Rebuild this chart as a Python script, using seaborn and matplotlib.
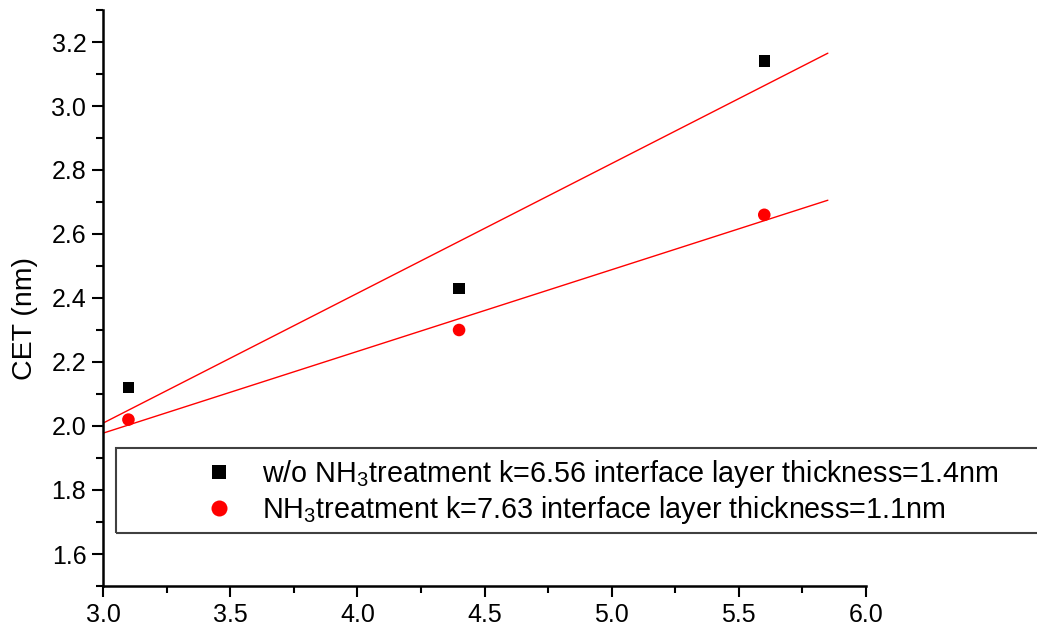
import numpy as np
import pandas as pd
import matplotlib
matplotlib.use("Agg")
import matplotlib.pyplot as plt
from matplotlib.patches import Rectangle
from matplotlib.ticker import MultipleLocator
import seaborn as sns

# Measured CET against thickness for the two process conditions
thickness = [3.1, 4.4, 5.6]
cet_without_nh3 = [2.12, 2.43, 3.14]
cet_with_nh3 = [2.02, 2.30, 2.66]
series_labels = [
    "w/o NH$_3$treatment k=6.56 interface layer thickness=1.4nm",
    "NH$_3$treatment k=7.63 interface layer thickness=1.1nm",
]
x_ticks = [3.0, 3.5, 4.0, 4.5, 5.0, 5.5, 6.0]
y_ticks = [1.6, 1.8, 2.0, 2.2, 2.4, 2.6, 2.8, 3.0, 3.2]
fit_range = [3.0, 5.85]

sns.set_theme(style="ticks")
plt.rcParams["font.family"] = ["Liberation Sans", "DejaVu Sans"]
plt.rcParams["mathtext.fontset"] = "custom"
plt.rcParams["mathtext.rm"] = "Liberation Sans"
plt.rcParams["mathtext.it"] = "Liberation Sans"
plt.rcParams["mathtext.default"] = "regular"
plt.rcParams["text.color"] = "black"
plt.rcParams["axes.labelcolor"] = "black"

fig = plt.figure(figsize=(10.37, 6.32), dpi=100)
ax = fig.add_axes([103 / 1037, 1 - 586 / 632, (866 - 103) / 1037, (586 - 10) / 632])

df = pd.DataFrame({
    "x": thickness * 2,
    "y": cet_without_nh3 + cet_with_nh3,
    "series": [series_labels[0]] * 3 + [series_labels[1]] * 3,
})

# Linear fits drawn in red for both series
xf = np.array(fit_range)
for ys in (cet_without_nh3, cet_with_nh3):
    slope, intercept = np.polyfit(thickness, ys, 1)
    sns.lineplot(x=xf, y=slope * xf + intercept, color="red", lw=1.0, ax=ax,
                 legend=False, zorder=2)

sns.scatterplot(data=df, x="x", y="y", hue="series", style="series", size="series",
                palette=["black", "red"], markers=["s", "o"],
                sizes={series_labels[0]: 68, series_labels[1]: 82},
                linewidth=0, ax=ax, zorder=3, legend=True)

ax.set_xlim(3.0, 6.0)
ax.set_ylim(1.5, 3.3)
ax.set_xticks(x_ticks)
ax.set_yticks(y_ticks)
ax.set_xticklabels([f"{v:.1f}" for v in x_ticks], fontsize=18, color="black")
ax.set_yticklabels([f"{v:.1f}" for v in y_ticks], fontsize=18, color="black")
ax.xaxis.set_minor_locator(MultipleLocator(0.25))
ax.yaxis.set_minor_locator(MultipleLocator(0.1))
ax.tick_params(which="major", direction="out", length=8, width=1.5,
               colors="black", pad=4)
ax.tick_params(which="minor", direction="out", length=5, width=1.5, colors="black")
ax.set_xlabel("")
ax.set_ylabel("CET (nm)", fontsize=20.5, color="black")
ax.yaxis.set_label_coords(-0.085, 0.465)
for side in ("top", "right"):
    ax.spines[side].set_visible(False)
for side in ("left", "bottom"):
    ax.spines[side].set_linewidth(1.8)
    ax.spines[side].set_color("black")

handles, labels = ax.get_legend_handles_labels()
leg = ax.legend(handles, labels, loc="center left",
                bbox_to_anchor=(205 / 1037, 1 - 492 / 632),
                bbox_transform=fig.transFigure, frameon=False,
                fontsize=20.7, handletextpad=1.0, borderaxespad=0,
                labelspacing=0.14, borderpad=0, handlelength=1.0)
for t in leg.get_texts():
    t.set_color("black")
# Slightly larger legend symbols
for h, size in zip(leg.legend_handles, (88, 133)):
    if hasattr(h, "set_sizes"):
        h.set_sizes([size])
    elif hasattr(h, "set_markersize"):
        h.set_markersize(np.sqrt(size))

# Legend frame spanning to the right edge of the figure
fig.patches.append(Rectangle((116 / 1037, 1 - 533 / 632), (1045 - 116) / 1037,
                             (533 - 448) / 632, transform=fig.transFigure,
                             fill=False, edgecolor="#404040", lw=1.5))

fig.savefig("out.png", dpi=100)
